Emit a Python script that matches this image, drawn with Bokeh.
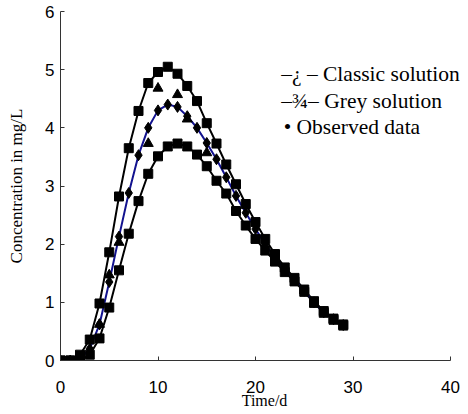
from bokeh.plotting import figure
from bokeh.models import Range1d, FixedTicker, Label
from bokeh.embed import file_html
from bokeh.resources import INLINE

# ---- data ----
days = list(range(30))
upper = [0, 0, 0.1, 0.36, 0.98, 1.86, 2.82, 3.65, 4.29, 4.77, 4.96, 5.05, 4.93, 4.72, 4.46,
         4.08, 3.73, 3.37, 3.03, 2.69, 2.38, 2.09, 1.83, 1.6, 1.42, 1.22, 1.02, 0.85, 0.72, 0.62]
lower = [0, 0, 0, 0.1, 0.38, 0.91, 1.55, 2.18, 2.74, 3.21, 3.51, 3.68, 3.73, 3.68, 3.54,
         3.34, 3.09, 2.87, 2.57, 2.32, 2.09, 1.89, 1.7, 1.52, 1.36, 1.18, 0.99, 0.82, 0.7, 0.6]
middle = [0, 0, 0.03, 0.2, 0.62, 1.35, 2.13, 2.88, 3.53, 4.0, 4.3, 4.4, 4.36, 4.2, 4.0,
          3.74, 3.46, 3.15, 2.83, 2.54, 2.26, 2.0, 1.77, 1.56, 1.39, 1.2, 1.0, 0.83, 0.71, 0.61]
obs_days = [4, 5, 6, 9, 10, 12, 13, 15]
obs_conc = [0.62, 1.47, 2.03, 3.73, 4.68, 4.57, 4.15, 3.57]

x_ticks = [0, 10, 20, 30, 40]
y_ticks = [0, 1, 2, 3, 4, 5, 6]
legend_items = ["\u2013\u00bf \u2013 Classic solution", "\u2013\u00be\u2013 Grey solution",
                "\u2022  Observed data"]
x_title = "Time/d"
y_title = "Concentration in mg/L"

SERIF = "Liberation Serif"
SANS = "Liberation Sans"

p = figure(width=468, height=414, output_backend="svg", toolbar_location=None,
           x_range=Range1d(0, 40 * 408 / 390), y_range=Range1d(0, 6),
           min_border_left=60, min_border_right=0, min_border_top=11, min_border_bottom=54,
           x_axis_label=x_title, y_axis_label=y_title)
p.outline_line_color = None
p.grid.visible = False
p.background_fill_color = "white"
p.border_fill_color = "white"
p.xaxis.bounds = (0, 40)

for ax, ticks in ((p.xaxis, x_ticks), (p.yaxis, y_ticks)):
    ax.ticker = FixedTicker(ticks=ticks)
    ax.major_tick_in = 4
    ax.major_tick_out = 0
    ax.minor_tick_line_color = None
    ax.major_label_text_font = SANS
    ax.major_label_text_font_size = "17px"
    ax.major_label_text_color = "black"
    ax.axis_line_color = "#333333"
    ax.major_tick_line_color = "#333333"
    ax.axis_label_text_font = SERIF
    ax.axis_label_text_font_style = "normal"
    ax.axis_label_text_color = "black"
p.xaxis.major_label_standoff = 20
p.yaxis.major_label_standoff = 6
p.xaxis.axis_label_text_font_size = "16px"
p.xaxis.axis_label_standoff = -4
p.yaxis.axis_label_text_font_size = "17px"
p.yaxis.axis_label_standoff = 16

# curves
p.line(days, upper, line_color="black", line_width=2)
p.line(days, lower, line_color="black", line_width=2)
p.line(days, middle, line_color="#12128f", line_width=2)
p.scatter(days, upper, marker="square", size=9, color="black")
p.scatter(days, lower, marker="square", size=9, color="black")
p.scatter(days, middle, marker="diamond", size=11, color="black")
p.scatter(obs_days, obs_conc, marker="triangle", size=10, color="black")

# legend text
for i, txt in enumerate(legend_items):
    dx = 0.25 if i == 2 else 0.0
    p.add_layout(Label(x=22.64 + dx, y=4.917 - i * 0.455, text=txt, text_font=SERIF,
                       text_font_size="21.5px", text_color="black",
                       text_baseline="middle", text_align="left"))

open("out.html", "w").write(file_html(p, INLINE))
